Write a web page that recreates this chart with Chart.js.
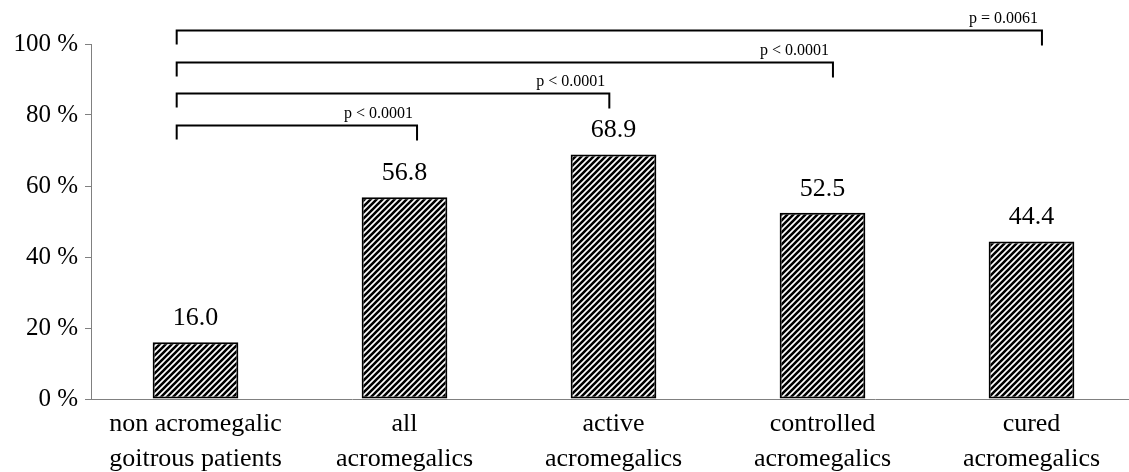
<!DOCTYPE html>
<html>
<head>
<meta charset="utf-8">
<script src="https://cdn.jsdelivr.net/npm/chart.js@4.4.1/dist/chart.umd.min.js"></script>
<style>
  html, body { margin: 0; padding: 0; background: #fff; overflow: hidden; }
  #wrap { width: 1140px; height: 472px; }
</style>
</head>
<body>
<div id="wrap"><canvas id="chart" width="1140" height="472"></canvas></div>
<script>
/* ================== DATA ================== */
const categories = [
  ["non acromegalic", "goitrous patients"],
  ["all", "acromegalics"],
  ["active", "acromegalics"],
  ["controlled", "acromegalics"],
  ["cured", "acromegalics"]
];
const percentages = [16.0, 56.8, 68.9, 52.5, 44.4];
const valueLabels = ["16.0", "56.8", "68.9", "52.5", "44.4"];

// significance brackets: group 0 vs group N
const compareFrom = [0, 0, 0, 0];
const compareTo = [1, 2, 3, 4];
const compareLevel = [77.2, 86.2, 95.0, 103.9];
const compareLabels = ["p < 0.0001", "p < 0.0001", "p < 0.0001", "p = 0.0061"];

/* ================== STYLE ================== */
const SERIF = "'Liberation Serif', 'Times New Roman', serif";
const AXIS_GREY = "#808080";
// small nudges (in category widths) for where bracket legs sit
const legNudgeLeft = -0.09;
const legNudgeRight = [0.06, -0.02, 0.05, 0.05];

function hatchPattern() {
  const c = document.createElement("canvas");
  c.width = 6; c.height = 6;
  const g = c.getContext("2d");
  g.fillStyle = "#fff";
  g.fillRect(0, 0, 6, 6);
  g.strokeStyle = "#000";
  g.lineWidth = 2.6;
  g.beginPath();
  g.moveTo(-1, 7); g.lineTo(7, -1);
  g.moveTo(-1, 1); g.lineTo(1, -1);
  g.moveTo(5, 7); g.lineTo(7, 5);
  g.stroke();
  return g.createPattern(c, "repeat");
}

/* ================== PLUGINS ================== */
const barValues = {
  id: "barValues",
  afterDatasetsDraw(chart) {
    const ctx = chart.ctx;
    const meta = chart.getDatasetMeta(0);
    ctx.save();
    ctx.font = "26px " + SERIF;
    ctx.fillStyle = "#000";
    ctx.textAlign = "center";
    ctx.textBaseline = "alphabetic";
    meta.data.forEach((bar, i) => {
      ctx.fillText(valueLabels[i], bar.x, bar.y - 17);
    });
    ctx.restore();
  }
};

const brackets = {
  id: "brackets",
  afterDraw(chart) {
    const ctx = chart.ctx;
    const x = chart.scales.x;
    const y = chart.scales.y;
    const step = x.getPixelForValue(1) - x.getPixelForValue(0);
    ctx.save();
    ctx.strokeStyle = "#000";
    ctx.lineWidth = 2;
    ctx.font = "16px " + SERIF;
    ctx.fillStyle = "#000";
    ctx.textAlign = "right";
    ctx.textBaseline = "alphabetic";
    compareTo.forEach((to, i) => {
      const x0 = x.getPixelForValue(compareFrom[i]) + legNudgeLeft * step;
      const x1 = x.getPixelForValue(to) + legNudgeRight[i] * step;
      const yy = Math.round(y.getPixelForValue(compareLevel[i])) + 0.5;
      ctx.beginPath();
      ctx.moveTo(x0, yy + 14);
      ctx.lineTo(x0, yy);
      ctx.lineTo(x1, yy);
      ctx.lineTo(x1, yy + 15);
      ctx.stroke();
      ctx.fillText(compareLabels[i], x1 - 4, yy - 8);
    });
    ctx.restore();
  }
};

/* ================== CHART ================== */
new Chart(document.getElementById("chart"), {
  type: "bar",
  data: {
    labels: categories,
    datasets: [{
      data: percentages,
      backgroundColor: hatchPattern(),
      borderColor: "#000",
      borderWidth: 2,
      borderSkipped: false,
      barPercentage: 0.41,
      categoryPercentage: 1
    }]
  },
  options: {
    responsive: false,
    animation: false,
    layout: { padding: { top: 44, right: 4, left: 0, bottom: 0 } },
    plugins: {
      legend: { display: false },
      tooltip: { enabled: false }
    },
    scales: {
      x: {
        afterFit(scale) { scale.height = 73; },
        grid: { display: false, drawTicks: false },
        border: { display: true, color: AXIS_GREY, width: 1 },
        ticks: {
          color: "#000",
          font: { family: SERIF, size: 26, lineHeight: 1.35 },
          padding: 8,
          maxRotation: 0,
          autoSkip: false
        }
      },
      y: {
        min: 0,
        max: 100,
        afterFit(scale) { scale.width = 91; },
        grid: {
          drawOnChartArea: false,
          drawTicks: true,
          tickLength: 6,
          color: AXIS_GREY
        },
        border: { display: true, color: AXIS_GREY, width: 1 },
        ticks: {
          stepSize: 20,
          color: "#000",
          padding: 7,
          font: { family: SERIF, size: 25 },
          callback: v => v + " %"
        }
      }
    }
  },
  plugins: [barValues, brackets]
});
</script>
</body>
</html>
